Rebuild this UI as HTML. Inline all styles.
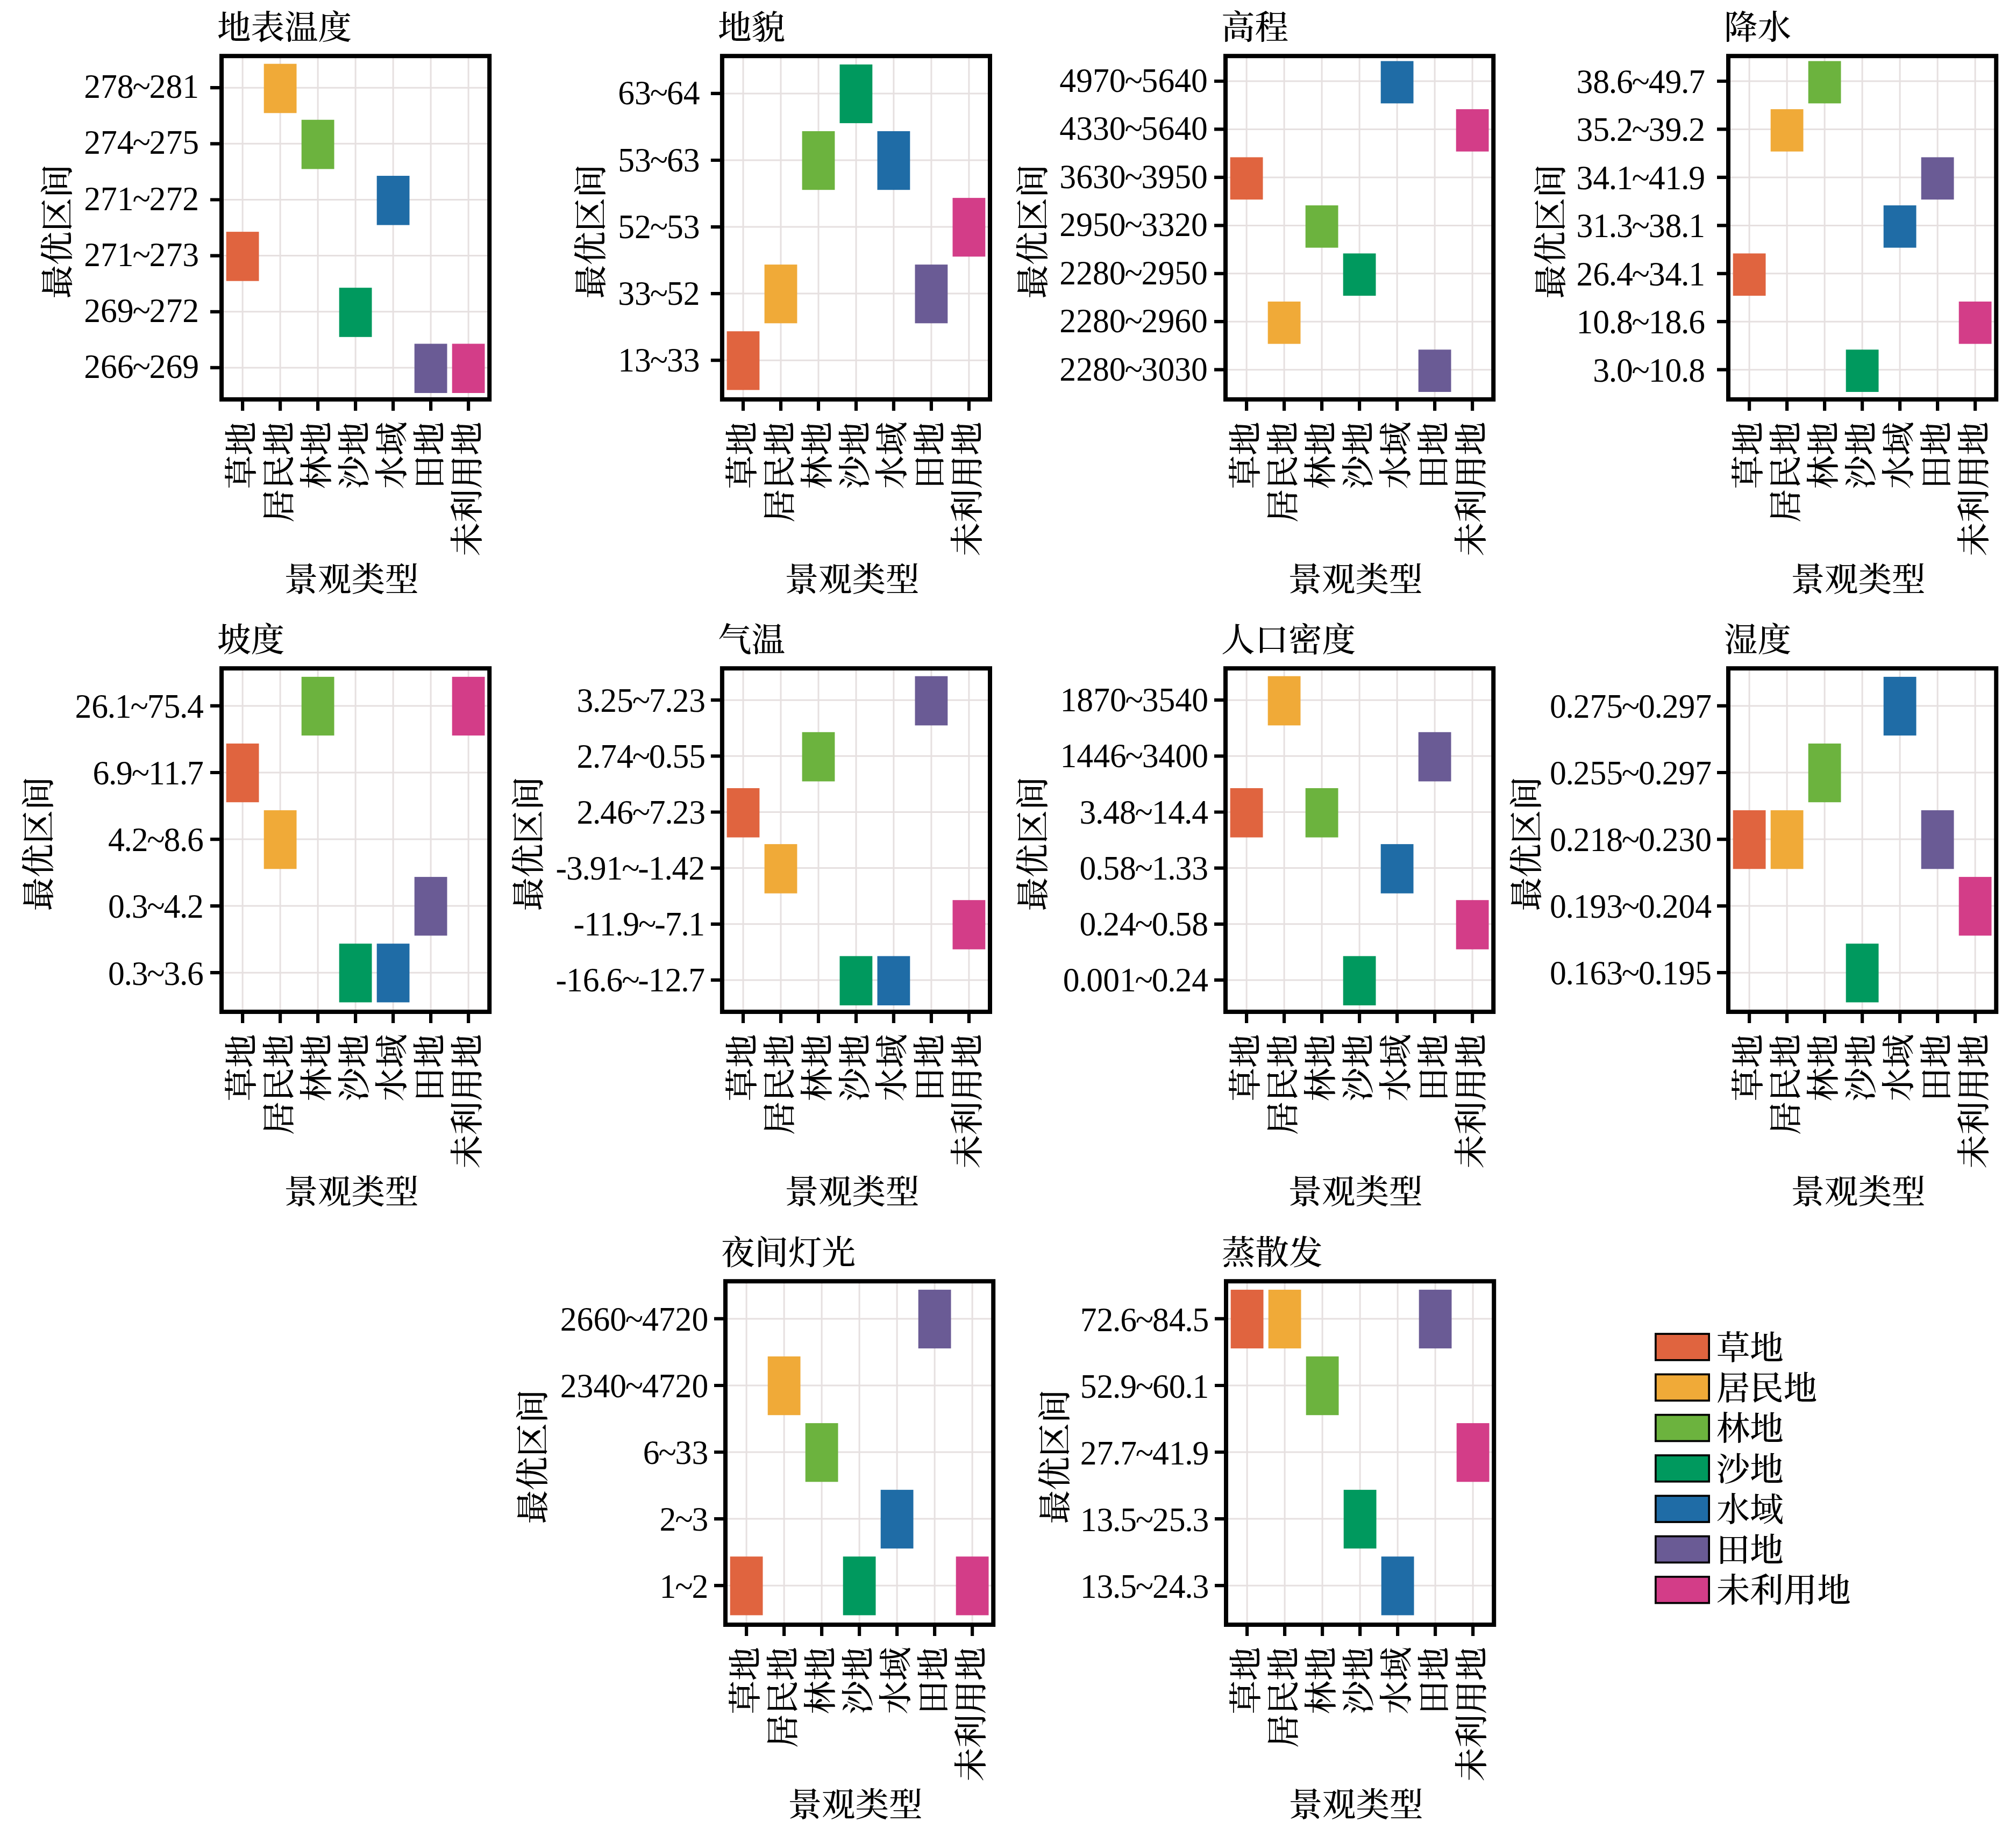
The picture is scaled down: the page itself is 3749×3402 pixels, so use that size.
<!DOCTYPE html>
<html lang="zh"><head><meta charset="utf-8"><title>最优区间</title><style>html,body{margin:0;padding:0;background:#fff}svg{display:block}</style></head><body>
<svg width="3749" height="3402" viewBox="0 0 3749 3402" font-family='"Liberation Serif","Noto Serif CJK SC",serif' font-size="62.5" font-weight="500" fill="#000">
<rect width="3749" height="3402" fill="#fff"/>
<g><path d="M451.1 104.2V742.9M521.1 104.2V742.9M591.1 104.2V742.9M661.1 104.2V742.9M731.1 104.2V742.9M801.1 104.2V742.9M871.1 104.2V742.9M412.0 163.2H910.2M412.0 267.3H910.2M412.0 371.5H910.2M412.0 475.6H910.2M412.0 579.8H910.2M412.0 683.9H910.2" stroke="#e6e0e0" stroke-width="3.0" fill="none"/><rect x="420.7" y="431.1" width="60.8" height="91.6" fill="#e0643f"/><rect x="490.7" y="118.7" width="60.8" height="91.6" fill="#f0aa38"/><rect x="560.7" y="222.8" width="60.8" height="91.6" fill="#6cb33e"/><rect x="630.7" y="535.2" width="60.8" height="91.6" fill="#00995e"/><rect x="700.7" y="327.0" width="60.8" height="91.6" fill="#1f6ca6"/><rect x="770.7" y="639.4" width="60.8" height="91.6" fill="#6a5b95"/><rect x="840.7" y="639.4" width="60.8" height="91.6" fill="#d33d88"/><rect x="412.0" y="104.2" width="498.2" height="638.7" fill="none" stroke="#000" stroke-width="8.0"/><path d="M451.1 746.4v17.5M521.1 746.4v17.5M591.1 746.4v17.5M661.1 746.4v17.5M731.1 746.4v17.5M801.1 746.4v17.5M871.1 746.4v17.5M408.5 163.2h-17.5M408.5 267.3h-17.5M408.5 371.5h-17.5M408.5 475.6h-17.5M408.5 579.8h-17.5M408.5 683.9h-17.5" stroke="#000" stroke-width="6.2" fill="none"/><text transform="translate(370.0 182.2) scale(0.9856 1)" font-size="62.5" text-anchor="end" dx="0 0 0 -2.2 -2.2 0 0">278~281</text><text transform="translate(370.0 286.3) scale(0.9856 1)" font-size="62.5" text-anchor="end" dx="0 0 0 -2.2 -2.2 0 0">274~275</text><text transform="translate(370.0 390.5) scale(0.9856 1)" font-size="62.5" text-anchor="end" dx="0 0 0 -2.2 -2.2 0 0">271~272</text><text transform="translate(370.0 494.6) scale(0.9856 1)" font-size="62.5" text-anchor="end" dx="0 0 0 -2.2 -2.2 0 0">271~273</text><text transform="translate(370.0 598.8) scale(0.9856 1)" font-size="62.5" text-anchor="end" dx="0 0 0 -2.2 -2.2 0 0">269~272</text><text transform="translate(370.0 702.9) scale(0.9856 1)" font-size="62.5" text-anchor="end" dx="0 0 0 -2.2 -2.2 0 0">266~269</text><text transform="translate(470.6 784.4) rotate(-90)" text-anchor="end">草地</text><text transform="translate(540.6 784.4) rotate(-90)" text-anchor="end">居民地</text><text transform="translate(610.6 784.4) rotate(-90)" text-anchor="end">林地</text><text transform="translate(680.6 784.4) rotate(-90)" text-anchor="end">沙地</text><text transform="translate(750.6 784.4) rotate(-90)" text-anchor="end">水域</text><text transform="translate(820.6 784.4) rotate(-90)" text-anchor="end">田地</text><text transform="translate(890.6 784.4) rotate(-90)" text-anchor="end">未利用地</text><text x="404.0" y="72.7">地表温度</text><text x="653.6" y="1099.9" text-anchor="middle">景观类型</text><text transform="translate(128.9 430.6) rotate(-90)" text-anchor="middle">最优区间</text></g>
<g><path d="M1382.0 104.2V742.9M1452.0 104.2V742.9M1522.0 104.2V742.9M1592.0 104.2V742.9M1661.9 104.2V742.9M1731.9 104.2V742.9M1801.9 104.2V742.9M1342.9 173.9H1841.0M1342.9 298.0H1841.0M1342.9 422.1H1841.0M1342.9 546.1H1841.0M1342.9 670.2H1841.0" stroke="#e6e0e0" stroke-width="3.0" fill="none"/><rect x="1351.6" y="616.2" width="60.8" height="109.2" fill="#e0643f"/><rect x="1421.6" y="492.1" width="60.8" height="109.2" fill="#f0aa38"/><rect x="1491.6" y="244.0" width="60.8" height="109.2" fill="#6cb33e"/><rect x="1561.5" y="119.9" width="60.8" height="109.2" fill="#00995e"/><rect x="1631.5" y="244.0" width="60.8" height="109.2" fill="#1f6ca6"/><rect x="1701.5" y="492.1" width="60.8" height="109.2" fill="#6a5b95"/><rect x="1771.5" y="368.1" width="60.8" height="109.2" fill="#d33d88"/><rect x="1342.9" y="104.2" width="498.1" height="638.7" fill="none" stroke="#000" stroke-width="8.0"/><path d="M1382.0 746.4v17.5M1452.0 746.4v17.5M1522.0 746.4v17.5M1592.0 746.4v17.5M1661.9 746.4v17.5M1731.9 746.4v17.5M1801.9 746.4v17.5M1339.4 173.9h-17.5M1339.4 298.0h-17.5M1339.4 422.1h-17.5M1339.4 546.1h-17.5M1339.4 670.2h-17.5" stroke="#000" stroke-width="6.2" fill="none"/><text transform="translate(1301.5 194.4) scale(0.9856 1)" font-size="62.5" text-anchor="end" dx="0 0 -2.2 -2.2 0">63~64</text><text transform="translate(1301.5 318.5) scale(0.9856 1)" font-size="62.5" text-anchor="end" dx="0 0 -2.2 -2.2 0">53~63</text><text transform="translate(1301.5 442.6) scale(0.9856 1)" font-size="62.5" text-anchor="end" dx="0 0 -2.2 -2.2 0">52~53</text><text transform="translate(1301.5 566.6) scale(0.9856 1)" font-size="62.5" text-anchor="end" dx="0 0 -2.2 -2.2 0">33~52</text><text transform="translate(1301.5 690.7) scale(0.9856 1)" font-size="62.5" text-anchor="end" dx="0 0 -2.2 -2.2 0">13~33</text><text transform="translate(1401.5 784.4) rotate(-90)" text-anchor="end">草地</text><text transform="translate(1471.5 784.4) rotate(-90)" text-anchor="end">居民地</text><text transform="translate(1541.5 784.4) rotate(-90)" text-anchor="end">林地</text><text transform="translate(1611.5 784.4) rotate(-90)" text-anchor="end">沙地</text><text transform="translate(1681.4 784.4) rotate(-90)" text-anchor="end">水域</text><text transform="translate(1751.4 784.4) rotate(-90)" text-anchor="end">田地</text><text transform="translate(1821.4 784.4) rotate(-90)" text-anchor="end">未利用地</text><text x="1334.9" y="72.7">地貌</text><text x="1584.5" y="1099.9" text-anchor="middle">景观类型</text><text transform="translate(1121.3 430.6) rotate(-90)" text-anchor="middle">最优区间</text></g>
<g><path d="M2318.1 104.2V742.9M2388.1 104.2V742.9M2458.1 104.2V742.9M2528.1 104.2V742.9M2598.1 104.2V742.9M2668.1 104.2V742.9M2738.1 104.2V742.9M2279.0 151.0H2777.2M2279.0 240.4H2777.2M2279.0 329.9H2777.2M2279.0 419.4H2777.2M2279.0 508.8H2777.2M2279.0 598.2H2777.2M2279.0 687.7H2777.2" stroke="#e6e0e0" stroke-width="3.0" fill="none"/><rect x="2287.7" y="292.5" width="60.8" height="78.7" fill="#e0643f"/><rect x="2357.7" y="560.9" width="60.8" height="78.7" fill="#f0aa38"/><rect x="2427.7" y="382.0" width="60.8" height="78.7" fill="#6cb33e"/><rect x="2497.7" y="471.4" width="60.8" height="78.7" fill="#00995e"/><rect x="2567.7" y="113.6" width="60.8" height="78.7" fill="#1f6ca6"/><rect x="2637.7" y="650.3" width="60.8" height="78.7" fill="#6a5b95"/><rect x="2707.7" y="203.1" width="60.8" height="78.7" fill="#d33d88"/><rect x="2279.0" y="104.2" width="498.2" height="638.7" fill="none" stroke="#000" stroke-width="8.0"/><path d="M2318.1 746.4v17.5M2388.1 746.4v17.5M2458.1 746.4v17.5M2528.1 746.4v17.5M2598.1 746.4v17.5M2668.1 746.4v17.5M2738.1 746.4v17.5M2275.5 151.0h-17.5M2275.5 240.4h-17.5M2275.5 329.9h-17.5M2275.5 419.4h-17.5M2275.5 508.8h-17.5M2275.5 598.2h-17.5M2275.5 687.7h-17.5" stroke="#000" stroke-width="6.2" fill="none"/><text transform="translate(2245.8 171.0) scale(0.9856 1)" font-size="62.5" text-anchor="end" dx="0 0 0 0 -2.2 -2.2 0 0 0">4970~5640</text><text transform="translate(2245.8 260.4) scale(0.9856 1)" font-size="62.5" text-anchor="end" dx="0 0 0 0 -2.2 -2.2 0 0 0">4330~5640</text><text transform="translate(2245.8 349.9) scale(0.9856 1)" font-size="62.5" text-anchor="end" dx="0 0 0 0 -2.2 -2.2 0 0 0">3630~3950</text><text transform="translate(2245.8 439.4) scale(0.9856 1)" font-size="62.5" text-anchor="end" dx="0 0 0 0 -2.2 -2.2 0 0 0">2950~3320</text><text transform="translate(2245.8 528.8) scale(0.9856 1)" font-size="62.5" text-anchor="end" dx="0 0 0 0 -2.2 -2.2 0 0 0">2280~2950</text><text transform="translate(2245.8 618.2) scale(0.9856 1)" font-size="62.5" text-anchor="end" dx="0 0 0 0 -2.2 -2.2 0 0 0">2280~2960</text><text transform="translate(2245.8 707.7) scale(0.9856 1)" font-size="62.5" text-anchor="end" dx="0 0 0 0 -2.2 -2.2 0 0 0">2280~3030</text><text transform="translate(2337.6 784.4) rotate(-90)" text-anchor="end">草地</text><text transform="translate(2407.6 784.4) rotate(-90)" text-anchor="end">居民地</text><text transform="translate(2477.6 784.4) rotate(-90)" text-anchor="end">林地</text><text transform="translate(2547.6 784.4) rotate(-90)" text-anchor="end">沙地</text><text transform="translate(2617.6 784.4) rotate(-90)" text-anchor="end">水域</text><text transform="translate(2687.6 784.4) rotate(-90)" text-anchor="end">田地</text><text transform="translate(2757.6 784.4) rotate(-90)" text-anchor="end">未利用地</text><text x="2271.0" y="72.7">高程</text><text x="2520.6" y="1099.9" text-anchor="middle">景观类型</text><text transform="translate(1943.1 430.6) rotate(-90)" text-anchor="middle">最优区间</text></g>
<g><path d="M3253.1 104.2V742.9M3323.1 104.2V742.9M3393.1 104.2V742.9M3463.1 104.2V742.9M3533.1 104.2V742.9M3603.1 104.2V742.9M3673.1 104.2V742.9M3214.0 151.0H3712.2M3214.0 240.4H3712.2M3214.0 329.9H3712.2M3214.0 419.4H3712.2M3214.0 508.8H3712.2M3214.0 598.2H3712.2M3214.0 687.7H3712.2" stroke="#e6e0e0" stroke-width="3.0" fill="none"/><rect x="3222.7" y="471.4" width="60.8" height="78.7" fill="#e0643f"/><rect x="3292.7" y="203.1" width="60.8" height="78.7" fill="#f0aa38"/><rect x="3362.7" y="113.6" width="60.8" height="78.7" fill="#6cb33e"/><rect x="3432.7" y="650.3" width="60.8" height="78.7" fill="#00995e"/><rect x="3502.7" y="382.0" width="60.8" height="78.7" fill="#1f6ca6"/><rect x="3572.7" y="292.5" width="60.8" height="78.7" fill="#6a5b95"/><rect x="3642.7" y="560.9" width="60.8" height="78.7" fill="#d33d88"/><rect x="3214.0" y="104.2" width="498.2" height="638.7" fill="none" stroke="#000" stroke-width="8.0"/><path d="M3253.1 746.4v17.5M3323.1 746.4v17.5M3393.1 746.4v17.5M3463.1 746.4v17.5M3533.1 746.4v17.5M3603.1 746.4v17.5M3673.1 746.4v17.5M3210.5 151.0h-17.5M3210.5 240.4h-17.5M3210.5 329.9h-17.5M3210.5 419.4h-17.5M3210.5 508.8h-17.5M3210.5 598.2h-17.5M3210.5 687.7h-17.5" stroke="#000" stroke-width="6.2" fill="none"/><text transform="translate(3171.0 173.0) scale(0.9856 1)" font-size="62.5" text-anchor="end" dx="0 0 -1.3 -1.3 -2.2 -2.2 0 -1.3 -1.3">38.6~49.7</text><text transform="translate(3171.0 262.4) scale(0.9856 1)" font-size="62.5" text-anchor="end" dx="0 0 -1.3 -1.3 -2.2 -2.2 0 -1.3 -1.3">35.2~39.2</text><text transform="translate(3171.0 351.9) scale(0.9856 1)" font-size="62.5" text-anchor="end" dx="0 0 -1.3 -1.3 -2.2 -2.2 0 -1.3 -1.3">34.1~41.9</text><text transform="translate(3171.0 441.4) scale(0.9856 1)" font-size="62.5" text-anchor="end" dx="0 0 -1.3 -1.3 -2.2 -2.2 0 -1.3 -1.3">31.3~38.1</text><text transform="translate(3171.0 530.8) scale(0.9856 1)" font-size="62.5" text-anchor="end" dx="0 0 -1.3 -1.3 -2.2 -2.2 0 -1.3 -1.3">26.4~34.1</text><text transform="translate(3171.0 620.2) scale(0.9856 1)" font-size="62.5" text-anchor="end" dx="0 0 -1.3 -1.3 -2.2 -2.2 0 -1.3 -1.3">10.8~18.6</text><text transform="translate(3171.0 709.7) scale(0.9856 1)" font-size="62.5" text-anchor="end" dx="0 -1.3 -1.3 -2.2 -2.2 0 -1.3 -1.3">3.0~10.8</text><text transform="translate(3272.6 784.4) rotate(-90)" text-anchor="end">草地</text><text transform="translate(3342.6 784.4) rotate(-90)" text-anchor="end">居民地</text><text transform="translate(3412.6 784.4) rotate(-90)" text-anchor="end">林地</text><text transform="translate(3482.6 784.4) rotate(-90)" text-anchor="end">沙地</text><text transform="translate(3552.6 784.4) rotate(-90)" text-anchor="end">水域</text><text transform="translate(3622.6 784.4) rotate(-90)" text-anchor="end">田地</text><text transform="translate(3692.6 784.4) rotate(-90)" text-anchor="end">未利用地</text><text x="3206.0" y="72.7">降水</text><text x="3455.6" y="1099.9" text-anchor="middle">景观类型</text><text transform="translate(2906.0 430.6) rotate(-90)" text-anchor="middle">最优区间</text></g>
<g><path d="M451.1 1243.2V1882.0M521.1 1243.2V1882.0M591.1 1243.2V1882.0M661.1 1243.2V1882.0M731.1 1243.2V1882.0M801.1 1243.2V1882.0M871.1 1243.2V1882.0M412.0 1312.9H910.2M412.0 1437.0H910.2M412.0 1561.1H910.2M412.0 1685.1H910.2M412.0 1809.2H910.2" stroke="#e6e0e0" stroke-width="3.0" fill="none"/><rect x="420.7" y="1383.0" width="60.8" height="109.2" fill="#e0643f"/><rect x="490.7" y="1507.1" width="60.8" height="109.2" fill="#f0aa38"/><rect x="560.7" y="1258.9" width="60.8" height="109.2" fill="#6cb33e"/><rect x="630.7" y="1755.2" width="60.8" height="109.2" fill="#00995e"/><rect x="700.7" y="1755.2" width="60.8" height="109.2" fill="#1f6ca6"/><rect x="770.7" y="1631.1" width="60.8" height="109.2" fill="#6a5b95"/><rect x="840.7" y="1258.9" width="60.8" height="109.2" fill="#d33d88"/><rect x="412.0" y="1243.2" width="498.2" height="638.8" fill="none" stroke="#000" stroke-width="8.0"/><path d="M451.1 1885.5v17.5M521.1 1885.5v17.5M591.1 1885.5v17.5M661.1 1885.5v17.5M731.1 1885.5v17.5M801.1 1885.5v17.5M871.1 1885.5v17.5M408.5 1312.9h-17.5M408.5 1437.0h-17.5M408.5 1561.1h-17.5M408.5 1685.1h-17.5M408.5 1809.2h-17.5" stroke="#000" stroke-width="6.2" fill="none"/><text transform="translate(378.9 1335.2) scale(0.9856 1)" font-size="62.5" text-anchor="end" dx="0 0 -1.3 -1.3 -2.2 -2.2 0 -1.3 -1.3">26.1~75.4</text><text transform="translate(378.9 1459.3) scale(0.9856 1)" font-size="62.5" text-anchor="end" dx="0 -1.3 -1.3 -2.2 -2.2 0 -1.3 -1.3">6.9~11.7</text><text transform="translate(378.9 1583.4) scale(0.9856 1)" font-size="62.5" text-anchor="end" dx="0 -1.3 -1.3 -2.2 -2.2 -1.3 -1.3">4.2~8.6</text><text transform="translate(378.9 1707.4) scale(0.9856 1)" font-size="62.5" text-anchor="end" dx="0 -1.3 -1.3 -2.2 -2.2 -1.3 -1.3">0.3~4.2</text><text transform="translate(378.9 1831.5) scale(0.9856 1)" font-size="62.5" text-anchor="end" dx="0 -1.3 -1.3 -2.2 -2.2 -1.3 -1.3">0.3~3.6</text><text transform="translate(470.6 1923.5) rotate(-90)" text-anchor="end">草地</text><text transform="translate(540.6 1923.5) rotate(-90)" text-anchor="end">居民地</text><text transform="translate(610.6 1923.5) rotate(-90)" text-anchor="end">林地</text><text transform="translate(680.6 1923.5) rotate(-90)" text-anchor="end">沙地</text><text transform="translate(750.6 1923.5) rotate(-90)" text-anchor="end">水域</text><text transform="translate(820.6 1923.5) rotate(-90)" text-anchor="end">田地</text><text transform="translate(890.6 1923.5) rotate(-90)" text-anchor="end">未利用地</text><text x="404.0" y="1211.7">坡度</text><text x="653.6" y="2239.0" text-anchor="middle">景观类型</text><text transform="translate(94.2 1569.6) rotate(-90)" text-anchor="middle">最优区间</text></g>
<g><path d="M1382.0 1243.2V1882.0M1452.0 1243.2V1882.0M1522.0 1243.2V1882.0M1592.0 1243.2V1882.0M1661.9 1243.2V1882.0M1731.9 1243.2V1882.0M1801.9 1243.2V1882.0M1342.9 1302.2H1841.0M1342.9 1406.3H1841.0M1342.9 1510.5H1841.0M1342.9 1614.6H1841.0M1342.9 1718.8H1841.0M1342.9 1822.9H1841.0" stroke="#e6e0e0" stroke-width="3.0" fill="none"/><rect x="1351.6" y="1466.0" width="60.8" height="91.6" fill="#e0643f"/><rect x="1421.6" y="1570.1" width="60.8" height="91.6" fill="#f0aa38"/><rect x="1491.6" y="1361.8" width="60.8" height="91.6" fill="#6cb33e"/><rect x="1561.5" y="1778.4" width="60.8" height="91.6" fill="#00995e"/><rect x="1631.5" y="1778.4" width="60.8" height="91.6" fill="#1f6ca6"/><rect x="1701.5" y="1257.7" width="60.8" height="91.6" fill="#6a5b95"/><rect x="1771.5" y="1674.2" width="60.8" height="91.6" fill="#d33d88"/><rect x="1342.9" y="1243.2" width="498.1" height="638.8" fill="none" stroke="#000" stroke-width="8.0"/><path d="M1382.0 1885.5v17.5M1452.0 1885.5v17.5M1522.0 1885.5v17.5M1592.0 1885.5v17.5M1661.9 1885.5v17.5M1731.9 1885.5v17.5M1801.9 1885.5v17.5M1339.4 1302.2h-17.5M1339.4 1406.3h-17.5M1339.4 1510.5h-17.5M1339.4 1614.6h-17.5M1339.4 1718.8h-17.5M1339.4 1822.9h-17.5" stroke="#000" stroke-width="6.2" fill="none"/><text transform="translate(1312.1 1323.7) scale(0.9856 1)" font-size="62.5" text-anchor="end" dx="0 -1.3 -1.3 0 -2.2 -2.2 -1.3 -1.3 0">3.25~7.23</text><text transform="translate(1312.1 1427.8) scale(0.9856 1)" font-size="62.5" text-anchor="end" dx="0 -1.3 -1.3 0 -2.2 -2.2 -1.3 -1.3 0">2.74~0.55</text><text transform="translate(1312.1 1532.0) scale(0.9856 1)" font-size="62.5" text-anchor="end" dx="0 -1.3 -1.3 0 -2.2 -2.2 -1.3 -1.3 0">2.46~7.23</text><text transform="translate(1312.1 1636.1) scale(0.9856 1)" font-size="62.5" text-anchor="end" dx="-1 -1 -1.3 -1.3 0 -2.2 -3.2 -1 -1.3 -1.3 0">-3.91~-1.42</text><text transform="translate(1312.1 1740.3) scale(0.9856 1)" font-size="62.5" text-anchor="end" dx="-1 -1 0 -1.3 -1.3 -2.2 -3.2 -1 -1.3 -1.3">-11.9~-7.1</text><text transform="translate(1312.1 1844.4) scale(0.9856 1)" font-size="62.5" text-anchor="end" dx="-1 -1 0 -1.3 -1.3 -2.2 -3.2 -1 0 -1.3 -1.3">-16.6~-12.7</text><text transform="translate(1401.5 1923.5) rotate(-90)" text-anchor="end">草地</text><text transform="translate(1471.5 1923.5) rotate(-90)" text-anchor="end">居民地</text><text transform="translate(1541.5 1923.5) rotate(-90)" text-anchor="end">林地</text><text transform="translate(1611.5 1923.5) rotate(-90)" text-anchor="end">沙地</text><text transform="translate(1681.4 1923.5) rotate(-90)" text-anchor="end">水域</text><text transform="translate(1751.4 1923.5) rotate(-90)" text-anchor="end">田地</text><text transform="translate(1821.4 1923.5) rotate(-90)" text-anchor="end">未利用地</text><text x="1334.9" y="1211.7">气温</text><text x="1584.5" y="2239.0" text-anchor="middle">景观类型</text><text transform="translate(1004.8 1569.6) rotate(-90)" text-anchor="middle">最优区间</text></g>
<g><path d="M2318.1 1243.2V1882.0M2388.1 1243.2V1882.0M2458.1 1243.2V1882.0M2528.1 1243.2V1882.0M2598.1 1243.2V1882.0M2668.1 1243.2V1882.0M2738.1 1243.2V1882.0M2279.0 1302.2H2777.2M2279.0 1406.3H2777.2M2279.0 1510.5H2777.2M2279.0 1614.6H2777.2M2279.0 1718.8H2777.2M2279.0 1822.9H2777.2" stroke="#e6e0e0" stroke-width="3.0" fill="none"/><rect x="2287.7" y="1466.0" width="60.8" height="91.6" fill="#e0643f"/><rect x="2357.7" y="1257.7" width="60.8" height="91.6" fill="#f0aa38"/><rect x="2427.7" y="1466.0" width="60.8" height="91.6" fill="#6cb33e"/><rect x="2497.7" y="1778.4" width="60.8" height="91.6" fill="#00995e"/><rect x="2567.7" y="1570.1" width="60.8" height="91.6" fill="#1f6ca6"/><rect x="2637.7" y="1361.8" width="60.8" height="91.6" fill="#6a5b95"/><rect x="2707.7" y="1674.2" width="60.8" height="91.6" fill="#d33d88"/><rect x="2279.0" y="1243.2" width="498.2" height="638.8" fill="none" stroke="#000" stroke-width="8.0"/><path d="M2318.1 1885.5v17.5M2388.1 1885.5v17.5M2458.1 1885.5v17.5M2528.1 1885.5v17.5M2598.1 1885.5v17.5M2668.1 1885.5v17.5M2738.1 1885.5v17.5M2275.5 1302.2h-17.5M2275.5 1406.3h-17.5M2275.5 1510.5h-17.5M2275.5 1614.6h-17.5M2275.5 1718.8h-17.5M2275.5 1822.9h-17.5" stroke="#000" stroke-width="6.2" fill="none"/><text transform="translate(2247.0 1323.2) scale(0.9856 1)" font-size="62.5" text-anchor="end" dx="0 0 0 0 -2.2 -2.2 0 0 0">1870~3540</text><text transform="translate(2247.0 1427.3) scale(0.9856 1)" font-size="62.5" text-anchor="end" dx="0 0 0 0 -2.2 -2.2 0 0 0">1446~3400</text><text transform="translate(2247.0 1531.5) scale(0.9856 1)" font-size="62.5" text-anchor="end" dx="0 -1.3 -1.3 0 -2.2 -2.2 0 -1.3 -1.3">3.48~14.4</text><text transform="translate(2247.0 1635.6) scale(0.9856 1)" font-size="62.5" text-anchor="end" dx="0 -1.3 -1.3 0 -2.2 -2.2 -1.3 -1.3 0">0.58~1.33</text><text transform="translate(2247.0 1739.8) scale(0.9856 1)" font-size="62.5" text-anchor="end" dx="0 -1.3 -1.3 0 -2.2 -2.2 -1.3 -1.3 0">0.24~0.58</text><text transform="translate(2247.0 1843.9) scale(0.9856 1)" font-size="62.5" text-anchor="end" dx="0 -1.3 -1.3 0 0 -2.2 -2.2 -1.3 -1.3 0">0.001~0.24</text><text transform="translate(2337.6 1923.5) rotate(-90)" text-anchor="end">草地</text><text transform="translate(2407.6 1923.5) rotate(-90)" text-anchor="end">居民地</text><text transform="translate(2477.6 1923.5) rotate(-90)" text-anchor="end">林地</text><text transform="translate(2547.6 1923.5) rotate(-90)" text-anchor="end">沙地</text><text transform="translate(2617.6 1923.5) rotate(-90)" text-anchor="end">水域</text><text transform="translate(2687.6 1923.5) rotate(-90)" text-anchor="end">田地</text><text transform="translate(2757.6 1923.5) rotate(-90)" text-anchor="end">未利用地</text><text x="2271.0" y="1211.7">人口密度</text><text x="2520.6" y="2239.0" text-anchor="middle">景观类型</text><text transform="translate(1943.1 1569.6) rotate(-90)" text-anchor="middle">最优区间</text></g>
<g><path d="M3253.1 1243.2V1882.0M3323.1 1243.2V1882.0M3393.1 1243.2V1882.0M3463.1 1243.2V1882.0M3533.1 1243.2V1882.0M3603.1 1243.2V1882.0M3673.1 1243.2V1882.0M3214.0 1312.9H3712.2M3214.0 1437.0H3712.2M3214.0 1561.1H3712.2M3214.0 1685.1H3712.2M3214.0 1809.2H3712.2" stroke="#e6e0e0" stroke-width="3.0" fill="none"/><rect x="3222.7" y="1507.1" width="60.8" height="109.2" fill="#e0643f"/><rect x="3292.7" y="1507.1" width="60.8" height="109.2" fill="#f0aa38"/><rect x="3362.7" y="1383.0" width="60.8" height="109.2" fill="#6cb33e"/><rect x="3432.7" y="1755.2" width="60.8" height="109.2" fill="#00995e"/><rect x="3502.7" y="1258.9" width="60.8" height="109.2" fill="#1f6ca6"/><rect x="3572.7" y="1507.1" width="60.8" height="109.2" fill="#6a5b95"/><rect x="3642.7" y="1631.1" width="60.8" height="109.2" fill="#d33d88"/><rect x="3214.0" y="1243.2" width="498.2" height="638.8" fill="none" stroke="#000" stroke-width="8.0"/><path d="M3253.1 1885.5v17.5M3323.1 1885.5v17.5M3393.1 1885.5v17.5M3463.1 1885.5v17.5M3533.1 1885.5v17.5M3603.1 1885.5v17.5M3673.1 1885.5v17.5M3210.5 1312.9h-17.5M3210.5 1437.0h-17.5M3210.5 1561.1h-17.5M3210.5 1685.1h-17.5M3210.5 1809.2h-17.5" stroke="#000" stroke-width="6.2" fill="none"/><text transform="translate(3183.1 1334.9) scale(0.9856 1)" font-size="62.5" text-anchor="end" dx="0 -1.3 -1.3 0 0 -2.2 -2.2 -1.3 -1.3 0 0">0.275~0.297</text><text transform="translate(3183.1 1459.0) scale(0.9856 1)" font-size="62.5" text-anchor="end" dx="0 -1.3 -1.3 0 0 -2.2 -2.2 -1.3 -1.3 0 0">0.255~0.297</text><text transform="translate(3183.1 1583.1) scale(0.9856 1)" font-size="62.5" text-anchor="end" dx="0 -1.3 -1.3 0 0 -2.2 -2.2 -1.3 -1.3 0 0">0.218~0.230</text><text transform="translate(3183.1 1707.1) scale(0.9856 1)" font-size="62.5" text-anchor="end" dx="0 -1.3 -1.3 0 0 -2.2 -2.2 -1.3 -1.3 0 0">0.193~0.204</text><text transform="translate(3183.1 1831.2) scale(0.9856 1)" font-size="62.5" text-anchor="end" dx="0 -1.3 -1.3 0 0 -2.2 -2.2 -1.3 -1.3 0 0">0.163~0.195</text><text transform="translate(3272.6 1923.5) rotate(-90)" text-anchor="end">草地</text><text transform="translate(3342.6 1923.5) rotate(-90)" text-anchor="end">居民地</text><text transform="translate(3412.6 1923.5) rotate(-90)" text-anchor="end">林地</text><text transform="translate(3482.6 1923.5) rotate(-90)" text-anchor="end">沙地</text><text transform="translate(3552.6 1923.5) rotate(-90)" text-anchor="end">水域</text><text transform="translate(3622.6 1923.5) rotate(-90)" text-anchor="end">田地</text><text transform="translate(3692.6 1923.5) rotate(-90)" text-anchor="end">未利用地</text><text x="3206.0" y="1211.7">湿度</text><text x="3455.6" y="2239.0" text-anchor="middle">景观类型</text><text transform="translate(2860.8 1569.6) rotate(-90)" text-anchor="middle">最优区间</text></g>
<g><path d="M1388.1 2383.2V3022.0M1458.1 2383.2V3022.0M1528.1 2383.2V3022.0M1598.1 2383.2V3022.0M1668.1 2383.2V3022.0M1738.1 2383.2V3022.0M1808.1 2383.2V3022.0M1349.0 2452.9H1847.2M1349.0 2577.0H1847.2M1349.0 2701.0H1847.2M1349.0 2825.1H1847.2M1349.0 2949.2H1847.2" stroke="#e6e0e0" stroke-width="3.0" fill="none"/><rect x="1357.7" y="2895.2" width="60.8" height="109.2" fill="#e0643f"/><rect x="1427.7" y="2523.0" width="60.8" height="109.2" fill="#f0aa38"/><rect x="1497.7" y="2647.1" width="60.8" height="109.2" fill="#6cb33e"/><rect x="1567.7" y="2895.2" width="60.8" height="109.2" fill="#00995e"/><rect x="1637.7" y="2771.1" width="60.8" height="109.2" fill="#1f6ca6"/><rect x="1707.7" y="2398.9" width="60.8" height="109.2" fill="#6a5b95"/><rect x="1777.7" y="2895.2" width="60.8" height="109.2" fill="#d33d88"/><rect x="1349.0" y="2383.2" width="498.2" height="638.8" fill="none" stroke="#000" stroke-width="8.0"/><path d="M1388.1 3025.5v17.5M1458.1 3025.5v17.5M1528.1 3025.5v17.5M1598.1 3025.5v17.5M1668.1 3025.5v17.5M1738.1 3025.5v17.5M1808.1 3025.5v17.5M1345.5 2452.9h-17.5M1345.5 2577.0h-17.5M1345.5 2701.0h-17.5M1345.5 2825.1h-17.5M1345.5 2949.2h-17.5" stroke="#000" stroke-width="6.2" fill="none"/><text transform="translate(1317.2 2475.2) scale(0.9856 1)" font-size="62.5" text-anchor="end" dx="0 0 0 0 -2.2 -2.2 0 0 0">2660~4720</text><text transform="translate(1317.2 2599.3) scale(0.9856 1)" font-size="62.5" text-anchor="end" dx="0 0 0 0 -2.2 -2.2 0 0 0">2340~4720</text><text transform="translate(1317.2 2723.3) scale(0.9856 1)" font-size="62.5" text-anchor="end" dx="0 -2.2 -2.2 0">6~33</text><text transform="translate(1317.2 2847.4) scale(0.9856 1)" font-size="62.5" text-anchor="end" dx="0 -2.2 -2.2">2~3</text><text transform="translate(1317.2 2971.5) scale(0.9856 1)" font-size="62.5" text-anchor="end" dx="0 -2.2 -2.2">1~2</text><text transform="translate(1407.6 3063.5) rotate(-90)" text-anchor="end">草地</text><text transform="translate(1477.6 3063.5) rotate(-90)" text-anchor="end">居民地</text><text transform="translate(1547.6 3063.5) rotate(-90)" text-anchor="end">林地</text><text transform="translate(1617.6 3063.5) rotate(-90)" text-anchor="end">沙地</text><text transform="translate(1687.6 3063.5) rotate(-90)" text-anchor="end">水域</text><text transform="translate(1757.6 3063.5) rotate(-90)" text-anchor="end">田地</text><text transform="translate(1827.6 3063.5) rotate(-90)" text-anchor="end">未利用地</text><text x="1341.0" y="2351.7">夜间灯光</text><text x="1590.6" y="3379.0" text-anchor="middle">景观类型</text><text transform="translate(1013.1 2709.6) rotate(-90)" text-anchor="middle">最优区间</text></g>
<g><path d="M2319.1 2383.2V3022.0M2389.1 2383.2V3022.0M2459.1 2383.2V3022.0M2529.1 2383.2V3022.0M2599.1 2383.2V3022.0M2669.1 2383.2V3022.0M2739.1 2383.2V3022.0M2280.0 2452.9H2778.2M2280.0 2577.0H2778.2M2280.0 2701.0H2778.2M2280.0 2825.1H2778.2M2280.0 2949.2H2778.2" stroke="#e6e0e0" stroke-width="3.0" fill="none"/><rect x="2288.7" y="2398.9" width="60.8" height="109.2" fill="#e0643f"/><rect x="2358.7" y="2398.9" width="60.8" height="109.2" fill="#f0aa38"/><rect x="2428.7" y="2523.0" width="60.8" height="109.2" fill="#6cb33e"/><rect x="2498.7" y="2771.1" width="60.8" height="109.2" fill="#00995e"/><rect x="2568.7" y="2895.2" width="60.8" height="109.2" fill="#1f6ca6"/><rect x="2638.7" y="2398.9" width="60.8" height="109.2" fill="#6a5b95"/><rect x="2708.7" y="2647.1" width="60.8" height="109.2" fill="#d33d88"/><rect x="2280.0" y="2383.2" width="498.2" height="638.8" fill="none" stroke="#000" stroke-width="8.0"/><path d="M2319.1 3025.5v17.5M2389.1 3025.5v17.5M2459.1 3025.5v17.5M2529.1 3025.5v17.5M2599.1 3025.5v17.5M2669.1 3025.5v17.5M2739.1 3025.5v17.5M2276.5 2452.9h-17.5M2276.5 2577.0h-17.5M2276.5 2701.0h-17.5M2276.5 2825.1h-17.5M2276.5 2949.2h-17.5" stroke="#000" stroke-width="6.2" fill="none"/><text transform="translate(2248.2 2475.9) scale(0.9856 1)" font-size="62.5" text-anchor="end" dx="0 0 -1.3 -1.3 -2.2 -2.2 0 -1.3 -1.3">72.6~84.5</text><text transform="translate(2248.2 2600.0) scale(0.9856 1)" font-size="62.5" text-anchor="end" dx="0 0 -1.3 -1.3 -2.2 -2.2 0 -1.3 -1.3">52.9~60.1</text><text transform="translate(2248.2 2724.0) scale(0.9856 1)" font-size="62.5" text-anchor="end" dx="0 0 -1.3 -1.3 -2.2 -2.2 0 -1.3 -1.3">27.7~41.9</text><text transform="translate(2248.2 2848.1) scale(0.9856 1)" font-size="62.5" text-anchor="end" dx="0 0 -1.3 -1.3 -2.2 -2.2 0 -1.3 -1.3">13.5~25.3</text><text transform="translate(2248.2 2972.2) scale(0.9856 1)" font-size="62.5" text-anchor="end" dx="0 0 -1.3 -1.3 -2.2 -2.2 0 -1.3 -1.3">13.5~24.3</text><text transform="translate(2338.6 3063.5) rotate(-90)" text-anchor="end">草地</text><text transform="translate(2408.6 3063.5) rotate(-90)" text-anchor="end">居民地</text><text transform="translate(2478.6 3063.5) rotate(-90)" text-anchor="end">林地</text><text transform="translate(2548.6 3063.5) rotate(-90)" text-anchor="end">沙地</text><text transform="translate(2618.6 3063.5) rotate(-90)" text-anchor="end">水域</text><text transform="translate(2688.6 3063.5) rotate(-90)" text-anchor="end">田地</text><text transform="translate(2758.6 3063.5) rotate(-90)" text-anchor="end">未利用地</text><text x="2272.0" y="2351.7">蒸散发</text><text x="2521.6" y="3379.0" text-anchor="middle">景观类型</text><text transform="translate(1984.0 2709.6) rotate(-90)" text-anchor="middle">最优区间</text></g>
<rect x="3078.85" y="2481.05" width="99.3" height="48.8" fill="#e0643f" stroke="#000" stroke-width="3.7"/>
<text x="3191.8" y="2528.6">草地</text>
<rect x="3078.85" y="2556.35" width="99.3" height="48.8" fill="#f0aa38" stroke="#000" stroke-width="3.7"/>
<text x="3191.8" y="2603.9">居民地</text>
<rect x="3078.85" y="2631.65" width="99.3" height="48.8" fill="#6cb33e" stroke="#000" stroke-width="3.7"/>
<text x="3191.8" y="2679.2">林地</text>
<rect x="3078.85" y="2706.95" width="99.3" height="48.8" fill="#00995e" stroke="#000" stroke-width="3.7"/>
<text x="3191.8" y="2754.5">沙地</text>
<rect x="3078.85" y="2782.25" width="99.3" height="48.8" fill="#1f6ca6" stroke="#000" stroke-width="3.7"/>
<text x="3191.8" y="2829.8">水域</text>
<rect x="3078.85" y="2857.55" width="99.3" height="48.8" fill="#6a5b95" stroke="#000" stroke-width="3.7"/>
<text x="3191.8" y="2905.1">田地</text>
<rect x="3078.85" y="2932.85" width="99.3" height="48.8" fill="#d33d88" stroke="#000" stroke-width="3.7"/>
<text x="3191.8" y="2980.4">未利用地</text>
</svg>
</body></html>
